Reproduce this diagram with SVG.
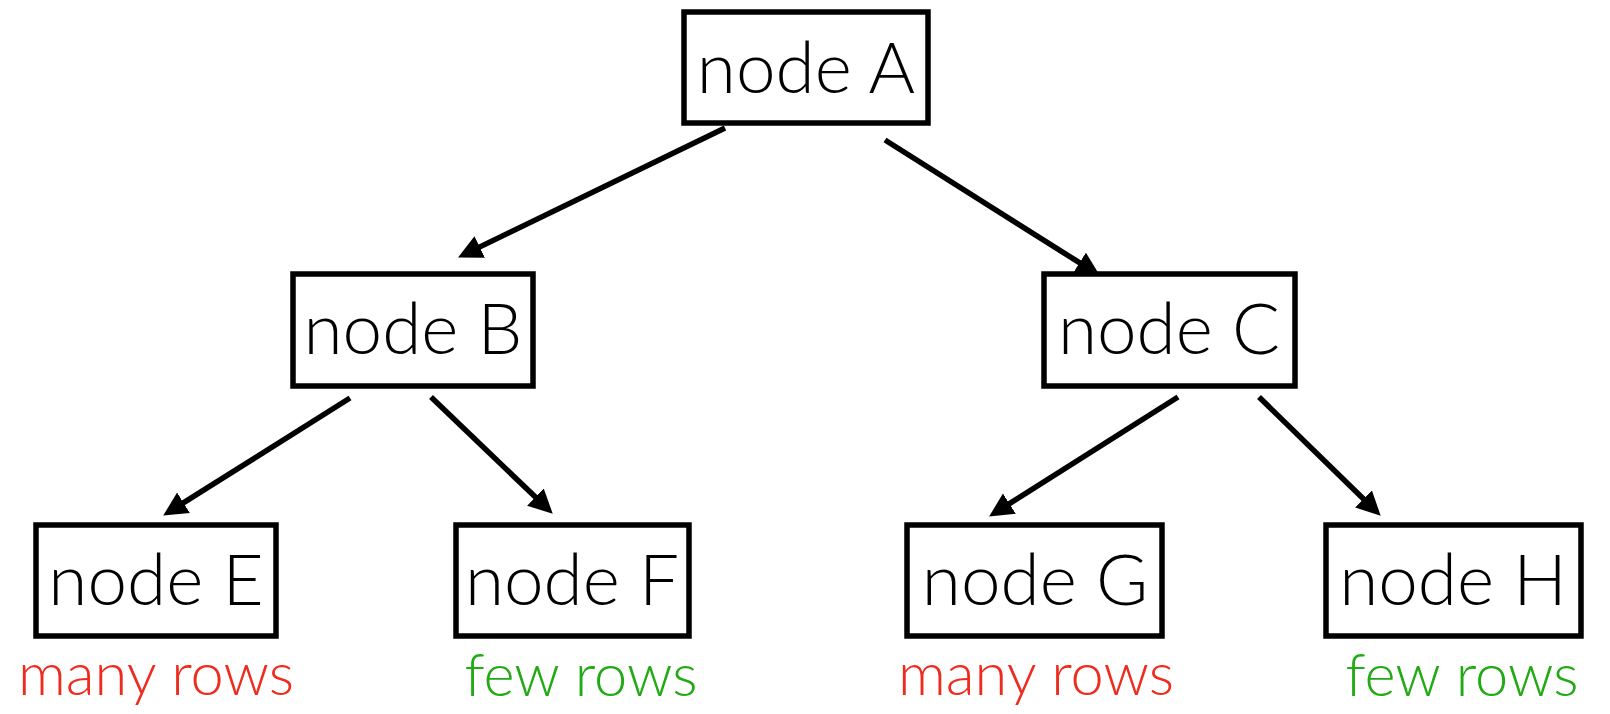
<svg xmlns="http://www.w3.org/2000/svg" width="1610" height="714" viewBox="0 0 1610 714">
<style>
.box{fill:#fff;stroke:#000;stroke-width:5.5}
.lbl{font-family:Lato,"Open Sans","Liberation Sans",sans-serif;font-weight:300;font-size:71px;fill:#000;text-anchor:middle}
.note{font-family:Lato,"Open Sans","Liberation Sans",sans-serif;font-weight:300;font-size:59.5px;text-anchor:middle}
.red{fill:#ee2b1c}
.green{fill:#22aa14}
.edge{stroke:#000;stroke-width:5.5;fill:none;marker-end:url(#arr)}
</style>
<defs>
<marker id="arr" markerUnits="userSpaceOnUse" markerWidth="26" markerHeight="26" refX="13" refY="12" orient="auto">
<path d="M0,0 L24,12 L0,24 z" fill="#000"/>
</marker>
</defs>
<rect width="1610" height="714" fill="#fff"/>
<g id="connectors">
<line class="edge" x1="725" y1="128" x2="468" y2="252.6"/>
<line class="edge" x1="885" y1="140" x2="1090.5" y2="269.7"/>
<line class="edge" x1="350" y1="398" x2="172.5" y2="509.7"/>
<line class="edge" x1="431" y1="397" x2="544.8" y2="506.1"/>
<line class="edge" x1="1178" y1="397" x2="998.4" y2="510.6"/>
<line class="edge" x1="1259" y1="397" x2="1372.8" y2="508"/>
</g>
<g id="nodeA"><rect class="box" x="684" y="12" width="244" height="111"/><text class="lbl" x="806" y="93">node A</text></g>
<g id="nodeB"><rect class="box" x="293" y="274" width="240" height="112"/><text class="lbl" x="413" y="354">node B</text></g>
<g id="nodeC"><rect class="box" x="1044" y="274" width="251" height="112"/><text class="lbl" x="1169" y="354">node C</text></g>
<g id="nodeE"><rect class="box" x="36" y="525" width="240" height="111"/><text class="lbl" x="156" y="605">node E</text></g>
<g id="nodeF"><rect class="box" x="456" y="525" width="233" height="111"/><text class="lbl" x="572" y="605">node F</text></g>
<g id="nodeG"><rect class="box" x="907" y="525" width="255" height="111"/><text class="lbl" x="1035" y="605">node G</text></g>
<g id="nodeH"><rect class="box" x="1326" y="525" width="255" height="111"/><text class="lbl" x="1453" y="605">node H</text></g>
<g id="notes">
<text class="note red" x="156" y="695">many rows</text>
<text class="note green" x="581" y="696">few rows</text>
<text class="note red" x="1036" y="695">many rows</text>
<text class="note green" x="1462" y="696">few rows</text>
</g>
</svg>
